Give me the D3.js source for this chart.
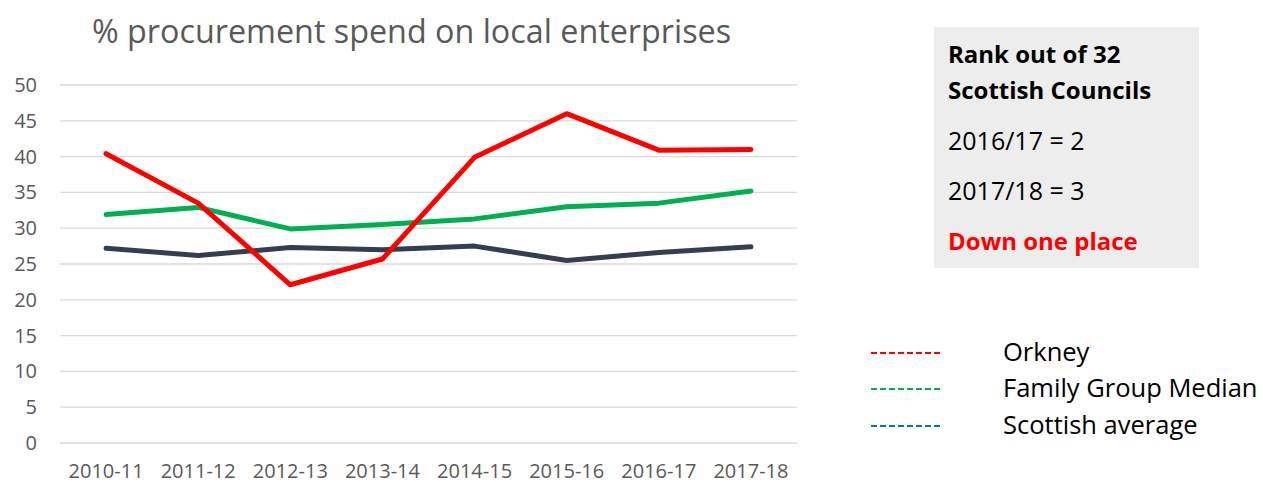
<!DOCTYPE html>
<html>
<head>
<meta charset="utf-8">
<script src="https://cdn.jsdelivr.net/npm/d3@7"></script>
<style>
  body { margin: 0; background: #fff; }
  #chart { width: 1263px; height: 484px; }
  text { font-family: "Open Sans", Lato, sans-serif; }
</style>
</head>
<body>
<div id="chart"></div>
<script>
// data
const years = ["2010-11", "2011-12", "2012-13", "2013-14", "2014-15", "2015-16", "2016-17", "2017-18"];
const orkney = [40.4, 33.5, 22.1, 25.7, 39.9, 46.0, 40.9, 41.0];
const familyMedian = [31.9, 32.9, 29.9, 30.5, 31.3, 33.0, 33.5, 35.2];
const scottishAvg = [27.2, 26.2, 27.3, 27.0, 27.5, 25.5, 26.6, 27.4];
const yTicks = [0, 5, 10, 15, 20, 25, 30, 35, 40, 45, 50];

const seriesNames = ["Orkney", "Family Group Median", "Scottish average"];
const legendColors = ["#FF0000", "#00B050", "#0070C0"];
const boxLines = ["Rank out of 32", "Scottish Councils", "2016/17 = 2", "2017/18 = 3", "Down one place"];

let svg = d3.select("#chart").append("svg")
    .attr("width", 1263)
    .attr("height", 484);

// plot area
let margin = {left: 60, right: 466, top: 85, bottom: 41};
let width = 1263 - margin.left - margin.right;
let height = 484 - margin.top - margin.bottom;

let g = svg.append("g")
    .attr("transform", `translate(${margin.left},${margin.top})`);

let x = d3.scaleBand().domain(years).range([0, width]);
let y = d3.scaleLinear().domain([0, 50]).range([height, 0]);

// gridlines
g.selectAll(".grid")
    .data(yTicks)
    .enter().append("line")
    .attr("x1", 0)
    .attr("x2", width)
    .attr("y1", d => y(d))
    .attr("y2", d => y(d))
    .attr("stroke", "#d9d9d9")
    .attr("stroke-width", 1.3);

// y axis labels
let yAxis = g.append("g")
    .call(d3.axisLeft(y).tickValues(yTicks).tickSize(0).tickPadding(23));
yAxis.select(".domain").remove();
yAxis.selectAll("text")
    .attr("fill", "#595959")
    .style("font-size", "20px");

// x axis labels
let xAxis = g.append("g")
    .attr("transform", `translate(0,${height})`)
    .call(d3.axisBottom(x).tickSize(0).tickPadding(21));
xAxis.select(".domain").remove();
xAxis.selectAll("text")
    .attr("fill", "#595959")
    .style("font-size", "20px");

// lines
let line = d3.line()
    .x((d, i) => x(years[i]) + x.bandwidth() / 2)
    .y(d => y(d));

let lineData = [
    {values: scottishAvg, color: "#333F50"},
    {values: familyMedian, color: "#00B050"},
    {values: orkney, color: "#FF0000"}
];

g.selectAll(".series")
    .data(lineData)
    .enter().append("path")
    .attr("d", d => line(d.values))
    .attr("fill", "none")
    .attr("stroke", d => d.color)
    .attr("stroke-width", 5)
    .attr("stroke-linecap", "round")
    .attr("stroke-linejoin", "round");

// title
svg.append("text")
    .attr("x", 92)
    .attr("y", 43)
    .attr("fill", "#595959")
    .style("font-size", "32.3px")
    .text("% procurement spend on local enterprises");

// rank box
svg.append("rect")
    .attr("x", 934)
    .attr("y", 27)
    .attr("width", 265)
    .attr("height", 241)
    .attr("fill", "#EDEDED");

let boxY = [63, 99, 150, 200, 250];
svg.selectAll(".boxtext")
    .data(boxLines)
    .enter().append("text")
    .attr("x", 948)
    .attr("y", (d, i) => boxY[i])
    .attr("fill", (d, i) => i == 4 ? "#FF0000" : "#000")
    .style("font-weight", (d, i) => (i < 2 || i == 4) ? "bold" : "normal")
    .style("font-size", (d, i) => (i < 2 || i == 4) ? "24px" : "25px")
    .text(d => d);

// legend
let legY = [353, 389, 426];
let legend = svg.selectAll(".legend")
    .data(seriesNames)
    .enter().append("g")
    .attr("transform", (d, i) => `translate(871,${legY[i]})`);

legend.append("line")
    .attr("x1", 0)
    .attr("x2", 70)
    .attr("stroke", (d, i) => legendColors[i])
    .attr("stroke-width", 2)
    .attr("stroke-dasharray", "6,3");

legend.append("text")
    .attr("x", 132)
    .attr("y", 8)
    .attr("fill", "#000")
    .style("font-size", "25.5px")
    .text(d => d);
</script>
</body>
</html>
